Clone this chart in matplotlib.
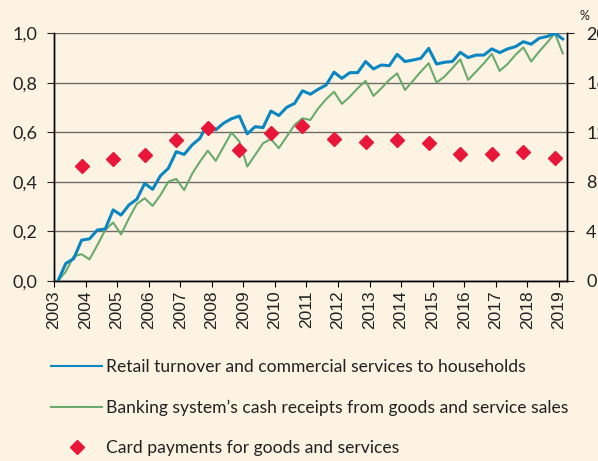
import matplotlib.pyplot as plt
from matplotlib.lines import Line2D
import numpy as np

# quarterly series, 2003Q1 .. 2019Q1 (left axis, normalised 0..1)
retail = [0.0, 0.071, 0.09, 0.165, 0.17, 0.206, 0.21, 0.287,
          0.266, 0.307, 0.33, 0.394, 0.37, 0.425, 0.455, 0.522,
          0.511, 0.549, 0.576, 0.637, 0.61, 0.637, 0.655, 0.666,
          0.594, 0.623, 0.619, 0.686, 0.668, 0.701, 0.717, 0.768,
          0.754, 0.774, 0.791, 0.843, 0.818, 0.841, 0.841, 0.886,
          0.856, 0.872, 0.869, 0.915, 0.886, 0.892, 0.899, 0.939,
          0.876, 0.883, 0.886, 0.923, 0.902, 0.912, 0.912, 0.937,
          0.922, 0.937, 0.946, 0.966, 0.956, 0.98, 0.987, 1.0,
          0.977]
cash = [0.0, 0.038, 0.10, 0.108, 0.087, 0.145, 0.206, 0.236,
        0.188, 0.253, 0.311, 0.334, 0.303, 0.347, 0.401, 0.412,
        0.367, 0.432, 0.482, 0.526, 0.485, 0.542, 0.599, 0.563,
        0.462, 0.509, 0.556, 0.573, 0.536, 0.583, 0.63, 0.657,
        0.65, 0.697, 0.734, 0.764, 0.715, 0.744, 0.778, 0.808,
        0.747, 0.778, 0.812, 0.838, 0.771, 0.808, 0.845, 0.879,
        0.801, 0.825, 0.859, 0.895, 0.812, 0.845, 0.879, 0.917,
        0.848, 0.876, 0.913, 0.943, 0.886, 0.926, 0.962, 1.0,
        0.919]

# annual card payments, % (right axis), shown at Q4 of each year 2003..2018
card = [9.27, 9.81, 10.16, 11.37, 12.37, 10.56, 11.91, 12.53,
        11.43, 11.24, 11.37, 11.15, 10.24, 10.22, 10.38, 9.9]
years = list(range(2003, 2020))

labels = ["Retail turnover and commercial services to households",
          "Banking system\u2019s cash receipts from goods and service sales",
          "Card payments for goods and services"]

bg = '#fcf3e3'
blue = '#0a87c0'
green = '#6aaa6c'
red = '#e8173a'

plt.rcParams['font.family'] = ['Lato', 'DejaVu Sans']

fig = plt.figure(figsize=(5.98, 4.61), dpi=100, facecolor=bg)
ax = fig.add_axes([0.0903, 0.3905, 0.8574, 0.5373])
ax.set_facecolor(bg)
ax2 = ax.twinx()

x = np.arange(len(retail))
ax.plot(x, retail, color=blue, lw=2.2, zorder=3)
ax.plot(x, cash, color=green, lw=1.5, zorder=2)
xq4 = 3 + 4 * np.arange(len(card))
ax2.plot(xq4, card, ls='none', marker='D', ms=7.5, color=red, mec=red, zorder=4)

ax.set_xlim(-0.5, len(retail) - 0.5)
ax.set_ylim(0, 1)
ax2.set_ylim(0, 20)

ax.set_yticks(np.arange(0, 1.01, 0.2))
ax.set_yticklabels([f"{v:.1f}".replace('.', ',') for v in np.arange(0, 1.01, 0.2)])
ax2.set_yticks(range(0, 21, 4))
ax.set_xticks(-0.5 + 4 * np.arange(len(years)))
ax.set_xticklabels([str(y) for y in years], rotation=90,
                   fontfamily='Liberation Sans', fontsize=12.5, color='#222222')

ax.grid(axis='y', color='#6e6a64', lw=1)
ax.set_axisbelow(True)
for a in (ax, ax2):
    a.spines['top'].set_visible(False)
    for s in ('left', 'right', 'bottom'):
        a.spines[s].set_color('black')
        a.spines[s].set_linewidth(1)
ax.tick_params(axis='y', labelsize=13, length=5, pad=7, colors='#222222')
ax.tick_params(axis='x', length=4, pad=3)
ax2.tick_params(axis='y', labelsize=13, length=5, pad=9, colors='#222222')
fig.text(0.978, 0.965, '%', fontsize=9, color='#222222', ha='center', va='center')

handles = [Line2D([], [], color=blue, lw=1.5),
           Line2D([], [], color=green, lw=1.5),
           Line2D([], [], ls='none', marker='D', ms=7, color=red)]
fig.legend(handles, labels, loc='upper left', bbox_to_anchor=(0.074, 0.236),
           frameon=False, fontsize=12.6, handlelength=2.9, handletextpad=0.25,
           labelspacing=1.38, borderaxespad=0, labelcolor='#222222')

fig.savefig('out.png', dpi=100, facecolor=bg)
